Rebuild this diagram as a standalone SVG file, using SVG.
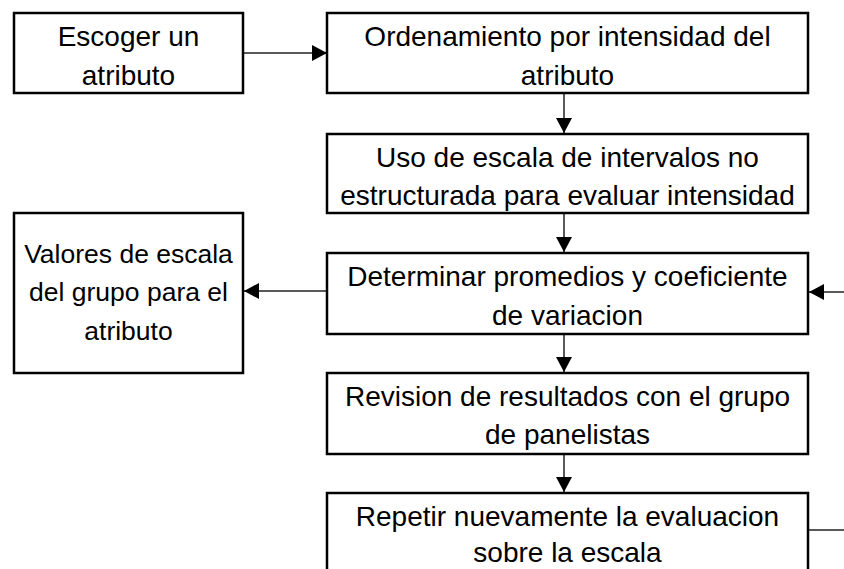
<svg xmlns="http://www.w3.org/2000/svg" width="844" height="569" viewBox="0 0 844 569">
  <style>
    .box { fill: #ffffff; stroke: #000000; stroke-width: 2.5; }
    .lbl { font-family: "Liberation Sans", Arial, sans-serif; font-size: 28px; fill: #000000; text-anchor: middle; }
    .sm { font-size: 26.5px; }
    .con { fill: none; stroke: #222222; stroke-width: 1.5; }
  </style>
  <defs>
    <marker id="arrow" markerUnits="userSpaceOnUse" markerWidth="16" markerHeight="16" refX="15" refY="8" orient="auto">
      <path d="M0,0 L15,8 L0,16 Z" fill="#000000"/>
    </marker>
  </defs>
  <rect width="844" height="569" fill="#ffffff"/>

  <g id="connectors">
    <line class="con" x1="243" y1="53" x2="327" y2="53" marker-end="url(#arrow)"/>
    <line class="con" x1="564" y1="93" x2="564" y2="133" marker-end="url(#arrow)"/>
    <line class="con" x1="564" y1="213" x2="564" y2="252" marker-end="url(#arrow)"/>
    <line class="con" x1="327" y1="291" x2="244" y2="291" marker-end="url(#arrow)"/>
    <line class="con" x1="844" y1="292" x2="809" y2="292" marker-end="url(#arrow)"/>
    <line class="con" x1="564" y1="334" x2="564" y2="372" marker-end="url(#arrow)"/>
    <line class="con" x1="564" y1="454" x2="564" y2="492" marker-end="url(#arrow)"/>
    <line class="con" x1="808" y1="530" x2="844" y2="530"/>
  </g>

  <g id="node-escoger">
    <rect class="box" x="14" y="13" width="229" height="80"/>
    <text class="lbl" x="128.5" y="46">Escoger un</text>
    <text class="lbl" x="128.5" y="85">atributo</text>
  </g>

  <g id="node-ordenamiento">
    <rect class="box" x="327" y="13" width="481" height="80"/>
    <text class="lbl" x="567.5" y="46">Ordenamiento por intensidad del</text>
    <text class="lbl" x="567.5" y="85">atributo</text>
  </g>

  <g id="node-uso">
    <rect class="box" x="327" y="134" width="481" height="79"/>
    <text class="lbl" x="567.5" y="167">Uso de escala de intervalos no</text>
    <text class="lbl" x="567.5" y="205">estructurada para evaluar intensidad</text>
  </g>

  <g id="node-determinar">
    <rect class="box" x="327" y="253" width="481" height="81"/>
    <text class="lbl" x="567.5" y="286">Determinar promedios y coeficiente</text>
    <text class="lbl" x="567.5" y="325">de variacion</text>
  </g>

  <g id="node-valores">
    <rect class="box" x="14" y="213" width="229" height="160"/>
    <text class="lbl sm" x="128.5" y="263">Valores de escala</text>
    <text class="lbl sm" x="128.5" y="301">del grupo para el</text>
    <text class="lbl sm" x="128.5" y="340">atributo</text>
  </g>

  <g id="node-revision">
    <rect class="box" x="327" y="373" width="481" height="81"/>
    <text class="lbl" x="567.5" y="406">Revision de resultados con el grupo</text>
    <text class="lbl" x="567.5" y="444">de panelistas</text>
  </g>

  <g id="node-repetir">
    <rect class="box" x="327" y="493" width="481" height="82"/>
    <text class="lbl" x="567.5" y="526">Repetir nuevamente la evaluacion</text>
    <text class="lbl" x="567.5" y="562">sobre la escala</text>
  </g>
</svg>
